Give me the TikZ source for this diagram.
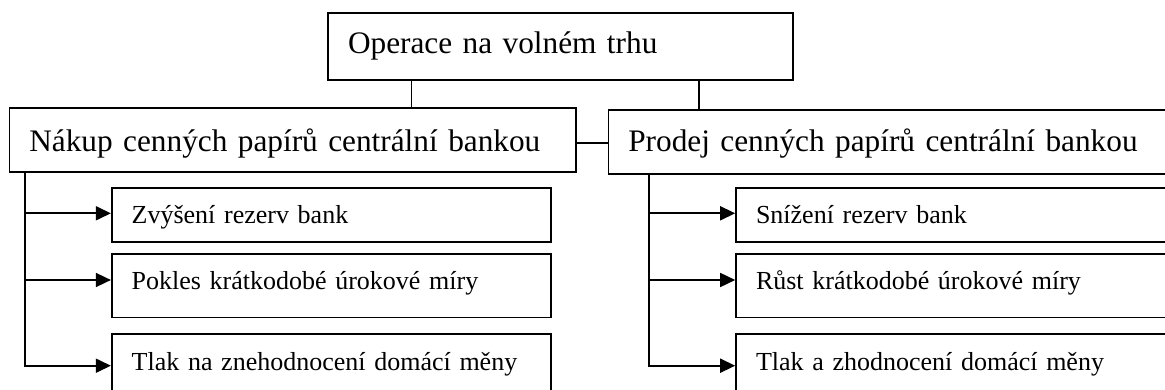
\documentclass[tikz,border=0pt]{standalone}
\usepackage{fontspec}
\setmainfont{Liberation Serif}
\usetikzlibrary{arrows.meta}
\begin{document}
\begin{tikzpicture}[x=1pt,y=-1pt,
  box/.style={draw, line width=1.6pt, rectangle, inner xsep=20pt, inner ysep=0pt, align=left, text depth=0pt},
  big/.style={box, font=\fontsize{31.3}{37}\selectfont},
  small/.style={box, font=\fontsize{26}{31}\selectfont},
  conn/.style={line width=1.6pt},
  arr/.style={conn, -{Triangle[length=15pt,width=14pt]}}]
\useasboundingbox (0,0) rectangle (1165,390);
\clip (0,0) rectangle (1165,390);
% main boxes
\node[big, text width=425pt, minimum height=67pt, text height=13.6pt] (T) at (560.5,46.5) {Operace na volném trhu};
\node[big, text width=526.7pt, minimum height=64pt, text height=24pt] (L) at (292.65,140) {Nákup cenných papírů centrální bankou};
\node[big, text width=531.7pt, minimum height=64pt, text height=19.4pt] (R) at (894.15,142) {Prodej cenných papírů centrální bankou};
% left children
\node[small, text width=399pt, minimum height=54pt, text height=16.6pt] (L1) at (331.2,215) {Zvýšení rezerv bank};
\node[small, text width=399pt, minimum height=63.3pt, text height=7.3pt] (L2) at (331.2,285.65) {Pokles krátkodobé úrokové míry};
\node[small, text width=399pt, minimum height=66pt, text height=6pt] (L3) at (331.2,367) {Tlak na znehodnocení domácí měny};
% right children
\node[small, text width=404pt, minimum height=54pt, text height=16.6pt] (R1) at (958,215) {Snížení rezerv bank};
\node[small, text width=404pt, minimum height=63.3pt, text height=7.3pt] (R2) at (958,285.65) {Růst krátkodobé úrokové míry};
\node[small, text width=404pt, minimum height=66pt, text height=6pt] (R3) at (958,367) {Tlak a zhodnocení domácí měny};
% top connectors
\coordinate (tl) at ([xshift=84.4pt]T.south west);
\coordinate (tr) at ([xshift=371.7pt]T.south west);
\draw[conn] (tl) -- (tl |- L.north);
\draw[conn] (tr) -- (tr |- R.north);
% middle connector
\coordinate (lm) at ([yshift=-3.3pt]L.east);
\draw[conn] (lm) -- (lm -| R.west);
% left trunk and arrows
\coordinate (lt) at ([xshift=16.7pt]L.south west);
\coordinate (l1t) at ([yshift=1.7pt]L1.west);
\coordinate (l2t) at ([yshift=5.65pt]L2.west);
\coordinate (l3t) at ([yshift=1.3pt]L3.west);
\draw[arr] (lt) |- (l3t);
\draw[arr] (l1t -| lt) -- (l1t);
\draw[arr] (l2t -| lt) -- (l2t);
% right trunk and arrows
\coordinate (rt) at ([xshift=41.7pt]R.south west);
\coordinate (r1t) at ([yshift=1.7pt]R1.west);
\coordinate (r2t) at ([yshift=5.65pt]R2.west);
\coordinate (r3t) at ([yshift=1.3pt]R3.west);
\draw[arr] (rt) |- (r3t);
\draw[arr] (r1t -| rt) -- (r1t);
\draw[arr] (r2t -| rt) -- (r2t);
\end{tikzpicture}
\end{document}
